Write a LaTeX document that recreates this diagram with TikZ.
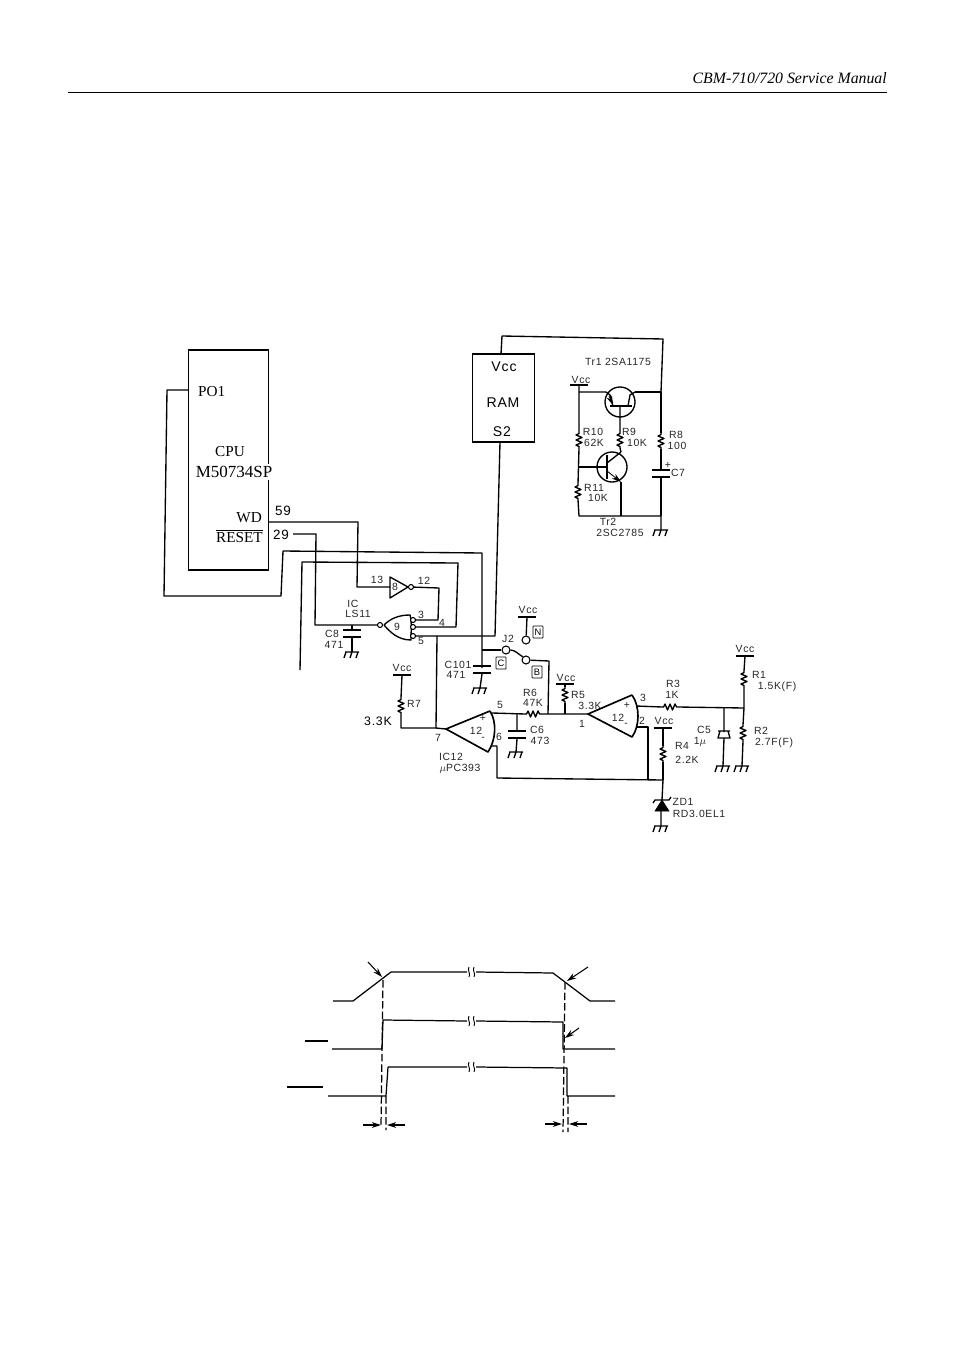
\documentclass[tikz,border=0pt]{standalone}
\usepackage{fontspec}
\usetikzlibrary{arrows.meta,calc}
\setmainfont{Liberation Serif}
\newfontfamily\lab[LetterSpace=6]{Liberation Sans}
\tikzset{
  x=0.03cm,y=-0.03cm,
  wire/.style={line width=1.15pt,line join=round},
  lbl/.style={font=\lab\fontsize{8.9}{10}\selectfont,inner sep=0pt,text=black!85},
  big/.style={font=\fontsize{13}{14}\selectfont,inner sep=0pt},
  ram/.style={font=\lab\fontsize{12}{14}\selectfont,inner sep=0pt},
  boxlbl/.style={draw,line width=0.7pt,rounded corners=0.5pt,font=\lab\fontsize{8}{9}\selectfont,inner sep=0.5pt,minimum width=10*0.03cm,minimum height=12*0.03cm},
  bubble/.style={circle,draw,line width=0.9pt,fill=white,inner sep=0pt,minimum size=5*0.03cm},
  term/.style={circle,draw,line width=0.9pt,fill=white,inner sep=0pt,minimum size=8*0.03cm},
  tr/.style={circle,draw,line width=1.15pt,inner sep=0pt,minimum size=30*0.03cm},
  dash wire/.style={line width=1.05pt,dash pattern=on 6.5pt off 2.5pt},
  tim/.style={line width=1.05pt,line join=round},
  arr/.style={line width=0.9pt,-{Stealth[length=8pt,width=5pt]}},
  pics/vres/.style={code={
    \coordinate (-top) at (0,-8);\coordinate (-bot) at (0,8);
    \draw[wire] (0,-8)--(0,-6.5)--(-3,-5)--(3,-2.5)--(-3,0)--(3,2.5)--(-3,5)--(0,6.5)--(0,8);}},
  pics/hres/.style={code={
    \coordinate (-l) at (-8,0);\coordinate (-r) at (8,0);
    \draw[wire] (-8,0)--(-6.5,0)--(-5,-3)--(-2.5,3)--(0,-3)--(2.5,3)--(5,-3)--(6.5,0)--(8,0);}},
  pics/gnd/.style={code={
    \coordinate (-in) at (0,0);
    \draw[wire] (-7,0)--(7,0) (-6,0)--(-8,6) (0,0)--(-2,6) (6,0)--(4,6);}},
  pics/vcap/.style={code={
    \coordinate (-top) at (0,-4);\coordinate (-bot) at (0,4);
    \draw[wire,line width=1.4pt] (-9,-4)--(9,-4) (-9,3)--(9,3);}},
  pics/vbar/.style={code={
    \coordinate (-in) at (0,0);
    \draw[wire] (-9,0)--(9,0);}},
}
\begin{document}
\begin{tikzpicture}
\useasboundingbox (0,0) rectangle (954,1351);
%% header
\node[font=\itshape\fontsize{13.5}{15}\selectfont,anchor=east,inner sep=0pt] (hdr) at (887,78) {CBM-710/720 Service Manual};
\coordinate (ruleL) at (68,92.5);\coordinate (ruleR) at (887,92.5);
\draw[line width=1.4pt] (ruleL)--(ruleR);

%% CPU
\node[draw,line width=1.15pt,minimum width=80*0.03cm,minimum height=220*0.03cm,inner sep=0pt] (cpu) at (228.5,460) {};
\node[big,anchor=west] (po1) at (198,392) {PO1};
\node[big] (cpulbl) at (230,452) {CPU};
\node[big,font=\fontsize{14.5}{15}\selectfont,fill=white,inner ysep=2pt] (cpuname) at (234,472) {M50734SP};
\node[big,anchor=east] (wd) at (262,518) {WD};
\node[big,anchor=east] (reset) at (263,536) {$\overline{\mbox{RESET}}$};
\node[font=\lab\fontsize{11.5}{12}\selectfont,inner sep=0pt] (p59) at (283,511) {59};
\node[font=\lab\fontsize{11.5}{12}\selectfont,inner sep=0pt] (p29) at (281,535) {29};
%% RAM
\node[draw,line width=1.15pt,minimum width=62*0.03cm,minimum height=88*0.03cm,inner sep=0pt] (ramb) at (503.5,398) {};
\node[ram] (ramv) at (504,367) {Vcc};
\node[ram] (raml) at (503,403) {RAM};
\node[ram] (rams) at (502,432) {S2};

%% inverter 8 and gate 9
\coordinate (invA) at (390,577);\coordinate (invB) at (390,598);\coordinate (invT) at (408,587);
\draw[wire] (invA)--(invT)--(invB)--cycle;
\coordinate (inv) at (390,587);
\node[bubble] (invo) at (411,587) {};
\node[lbl] (n8) at (395,587) {8};
\node[lbl] (n13) at (377,580) {13};
\node[lbl] (n12) at (424,581) {12};
%% NOR gate
\draw[wire] (410,615) .. controls (398,615) and (390,619) .. (384,625)
  .. controls (390,632) and (398,640) .. (411,640)
  .. controls (411,632) and (412,622) .. (410,615) -- cycle;
\node[bubble] (g1) at (413,620) {};
\node[bubble] (g2) at (413,627) {};
\node[bubble] (g3) at (413,636) {};
\node[bubble] (gi) at (380,625) {};
\node[lbl] (n9) at (397,627) {9};
\node[lbl] (n3) at (421,615) {3};
\node[lbl] (n4) at (442,623) {4};
\node[lbl] (n5) at (421,641) {5};
\node[lbl] (ic) at (353,604) {IC};
\node[lbl] (ls) at (358,614) {LS11};

%% CPU wires
\coordinate (cpuP) at (189,390);
\coordinate (a1) at (167,390);\coordinate (a2) at (164,596);\coordinate (a3) at (281,596);\coordinate (a4) at (283,551);\coordinate (a5) at (482,553);
\coordinate (a6) at (482,668);
\draw[wire] (cpuP)--(a1)--(a2)--(a3)--(a4)--(a5)--(a6);
\coordinate (wdP) at (268.5,522);\coordinate (b1) at (358,522);\coordinate (b2) at (357,587);
\draw[wire] (wdP)--(b1)--(b2)--(inv);
\coordinate (c0) at (293,534);\coordinate (c1) at (316,534);\coordinate (c2) at (315,625);
\draw[wire] (c0)--(c1)--(c2)--(gi);
\coordinate (d1) at (439,588);\coordinate (d2) at (438,620);
\draw[wire] (invo)--(d1)--(d2)--(g1);
\coordinate (e1) at (456,627);\coordinate (e2) at (458,563);\coordinate (e3) at (302,562);\coordinate (e4) at (300,670);
\draw[wire] (g2)--(e1)--(e2)--(e3)--(e4);
\coordinate (f1) at (495,636);\coordinate (f2) at (500,442);
\draw[wire] (g3)--(f1)--(f2);
\coordinate (g5) at (437,636);\coordinate (g7) at (436,728);
\draw[wire] (g5)--(g7);

%% C8
\pic (c8) at (352,634) {vcap};
\pic (c8g) at (352,652) {gnd};
\coordinate (c8t) at (352,625);
\draw[wire] (c8t)--(c8-top) (c8-bot)--(c8g-in);
\node[lbl] (c8a) at (332,634) {C8};
\node[lbl] (c8b) at (334,645) {471};

%% C101, J2
\pic (c101) at (482,670) {vcap};
\pic (c101g) at (480,688) {gnd};
\draw[wire] (c101-bot)--(c101g-in);
\node[lbl] (c101a) at (458,665) {C101};
\node[lbl] (c101b) at (456,675) {471};
\coordinate (j0) at (482,650);
\node[term] (j1) at (506,650) {};
\node[term] (j2) at (526,660) {};
\node[term] (j3) at (526,640) {};
\draw[wire] (j0)--(j1);
\draw[wire] (j1.east) .. controls (515,650) and (518,654) .. (j2.north west);
\node[lbl] (j2l) at (508,639) {J2};
\node[boxlbl] (bxN) at (538,632) {N};
\node[boxlbl] (bxC) at (501,663) {C};
\node[boxlbl] (bxB) at (537,672) {B};
\pic (vj) at (527,617) {vbar};
\node[lbl] (vjl) at (528,610) {Vcc};
\draw[wire] (vj-in)--(j3);
\coordinate (j4) at (549,661);\coordinate (j5) at (548,714);
\draw[wire] (j2)--(j4)--(j5);

%% R7
\pic (v7) at (402,675) {vbar};
\node[lbl] (v7l) at (402,668) {Vcc};
\pic (r7) at (401,706) {vres};
\node[lbl] (r7l) at (414,704) {R7};
\node[font=\lab\fontsize{10.5}{12}\selectfont,inner sep=0pt] (r7v) at (378,721) {3.3K};
\coordinate (r7c) at (401,728);
\draw[wire] (v7-in)--(r7-top) (r7-bot)--(r7c)--(g7);

%% Op amp 1
\coordinate (oaT) at (446,729);
\coordinate (oaU) at (490,711);\coordinate (oaD) at (488,752);
\draw[wire,line width=1.4pt] (oaU)--(oaT)--(oaD) .. controls (496,740) and (497,722) .. (oaU);
\draw[wire] (g7)--(oaT);
\node[lbl] (oa12) at (476,731) {12};
\node[lbl] (oap) at (483,718) {+};
\node[lbl] (oam) at (483,739) {-};
\node[lbl] (oa5) at (500,705) {5};
\node[lbl] (oa7) at (438,738) {7};
\node[lbl] (oa6) at (499,737) {6};
\node[lbl] (ic12) at (451,757) {IC12};
\node[lbl] (pc) at (460,769) {$\mu$PC393};

%% R6, C6
\pic (r6) at (533,714) {hres};
\coordinate (h1) at (492,713);
\coordinate (h2) at (588,714);
\coordinate (h3) at (517,714);
\draw[wire] (h1)--(r6-l) (r6-r)--(h2);
\node[lbl] (r6a) at (530,693) {R6};
\node[lbl] (r6b) at (533,703) {47K};
\pic (c6) at (517,735) {vcap};
\pic (c6g) at (516,752) {gnd};
\draw[wire] (h3)--(c6-top) (c6-bot)--(c6g-in);
\node[lbl] (c6a) at (537,730) {C6};
\node[lbl] (c6b) at (540,741) {473};

%% R5
\pic (v5) at (565,684) {vbar};
\node[lbl] (v5l) at (566,678) {Vcc};
\pic (r5) at (565,695) {vres};
\coordinate (h5) at (565,714);
\draw[wire] (v5-in)--(r5-top) (r5-bot)--(h5);
\node[lbl] (r5l) at (578,695) {R5};
\node[lbl] (r5v) at (590,706) {3.3K};
\node[lbl] (n1) at (582,724) {1};

%% Op amp 2
\coordinate (obT) at (588,714);
\coordinate (obU) at (632,695);\coordinate (obD) at (632,737);
\draw[wire,line width=1.4pt] (obU)--(obT)--(obD) .. controls (640,726) and (640,706) .. (obU);
\node[lbl] (ob12) at (618,718) {12};
\node[lbl] (obp) at (627,705) {+};
\node[lbl] (obm) at (626,725) {-};
\node[lbl] (ob3) at (643,698) {3};
\node[lbl] (ob2) at (642,721) {2};

%% R3, divider
\pic (r3) at (670,707) {hres};
\coordinate (k0) at (636,706);\coordinate (k1) at (744,708);
\draw[wire] (k0)--(r3-l) (r3-r)--(k1);
\node[lbl] (r3a) at (673,684) {R3};
\node[lbl] (r3b) at (672,695) {1K};
\pic (v1) at (745,656) {vbar};
\node[lbl] (v1l) at (745,649) {Vcc};
\pic (r1) at (744,679) {vres};
\pic (r2) at (743,733) {vres};
\pic (r2g) at (742,766) {gnd};
\draw[wire] (v1-in)--(r1-top) (r1-bot)--(k1)--(r2-top) (r2-bot)--(r2g-in);
\node[lbl] (r1a) at (759,675) {R1};
\node[lbl] (r1b) at (777,687) {1.5K(F)};
\node[lbl] (r2a) at (761,731) {R2};
\node[lbl] (r2b) at (774,743) {2.7F(F)};
%% C5
\coordinate (c5t) at (724,708);\coordinate (c5u) at (724,732);\coordinate (c5d) at (724,738);
\pic (c5g) at (723,766) {gnd};
\draw[wire] (c5t)--(c5u) (c5d)--(c5g-in);
\draw[wire] (718,731)--(730,731) (720,731)--(718,738)--(730,738)--(728,731);
\node[lbl] (c5a) at (704,730) {C5};
\node[lbl] (c5b) at (700,742) {1$\mu$};

%% Feedback, R4, zener
\coordinate (m0) at (491,746);\coordinate (m1) at (497,746);\coordinate (m2) at (497,778);\coordinate (m3) at (663,780);
\draw[wire] (m0)--(m1)--(m2)--(m3);
\coordinate (m4) at (636,727);\coordinate (m5) at (648,727);\coordinate (m6) at (648,779);
\draw[wire] (m4)--(m5)--(m6);
\pic (v4) at (663,728) {vbar};
\node[lbl] (v4l) at (664,721) {Vcc};
\pic (r4) at (663,754) {vres};
\draw[wire] (v4-in)--(r4-top) (r4-bot)--(m3);
\node[lbl] (r4a) at (682,746) {R4};
\node[lbl] (r4b) at (687,760) {2.2K};
\coordinate (zt) at (662,800);\coordinate (zb) at (661,811);
\draw[fill=black,line width=0.5pt] (655,811)--(669,811)--(zt)--cycle;
\draw[wire] (653,803)--(655,800)--(669,800)--(671,797);
\pic (zg) at (661,826) {gnd};
\draw[wire] (m3)--(zt) (zb)--(zg-in);
\node[lbl] (zd) at (683,802) {ZD1};
\node[lbl] (zdv) at (699,814) {RD3.0EL1};

%% Tr1/Tr2 block
\coordinate (t0) at (501,354);\coordinate (t1) at (502,336);\coordinate (t2) at (663,339);\coordinate (t3) at (661,392);
\draw[wire] (t0)--(t1)--(t2)--(t3);
\node[lbl] (tr1) at (618,362) {Tr1 2SA1175};
\pic (vt) at (579,385) {vbar};
\node[lbl] (vtl) at (581,380) {Vcc};
\node[tr] (q1) at (620,402) {};
\node[tr] (q2) at (612,467) {};
\coordinate (s1) at (579,392);\coordinate (s2) at (606,392);\coordinate (s3) at (635,392);
\coordinate (s4) at (579,467);\coordinate (s5) at (607,467);
\coordinate (s6) at (579,516);\coordinate (s7) at (661,516);\coordinate (s8) at (621,516);
\coordinate (s9) at (621,482);\coordinate (s10) at (621,452);
\pic (r10) at (579,440) {vres};
\pic (r11) at (578,492) {vres};
\pic (r9) at (620,440) {vres};
\pic (r8) at (661,441) {vres};
\pic (c7) at (661,474) {vcap};
\pic (c7g) at (661,530) {gnd};
\draw[wire] (vt-in)--(r10-top) (r10-bot)--(r11-top) (r11-bot)--(s6)--(s7)--(c7g-in);
\draw[wire] (s1)--(s2)--(610,395)--(613,406) (s3)--(630,395)--(628,406);
\draw[wire,line width=1.7pt] (610,406)--(632,406);
\draw[arr,line width=0.7pt] (609,396)--(613,405);
\draw[wire] (620,406)--(r9-top) (r9-bot)--(s10);
\draw[wire] (s3)--(t3)--(r8-top) (r8-bot)--(c7-top) (c7-bot)--(s7);
\draw[wire] (s4)--(s5);
\draw[wire,line width=1.7pt] (607,455)--(607,479);
\draw[wire] (607,463)--(s10);
\draw[arr,line width=0.7pt] (607,471)--(s9);
\draw[wire] (s9)--(s8);
\node[lbl] (r10a) at (593,432) {R10};
\node[lbl] (r10b) at (594,443) {62K};
\node[lbl] (r9a) at (629,432) {R9};
\node[lbl] (r9b) at (637,443) {10K};
\node[lbl] (r8a) at (676,435) {R8};
\node[lbl] (r8b) at (677,446) {100};
\node[lbl] (c7p) at (668,465) {+};
\node[lbl] (c7l) at (678,473) {C7};
\node[lbl] (r11a) at (594,488) {R11};
\node[lbl] (r11b) at (598,498) {10K};
\node[lbl] (tr2a) at (608,522) {Tr2};
\node[lbl] (tr2b) at (620,533) {2SC2785};

%% Timing chart
\coordinate (w1) at (333,1001);\coordinate (w2) at (353,1001);\coordinate (w3) at (391,972);\coordinate (w4) at (467,972);
\coordinate (w5) at (476,972);\coordinate (w6) at (553,973);\coordinate (w7) at (590,1001);\coordinate (w8) at (615,1001);
\draw[tim] (w1)--(w2)--(w3)--(w4) (w5)--(w6)--(w7)--(w8);
\coordinate (x1) at (332,1049);\coordinate (x2) at (382,1049);\coordinate (x3) at (383,1020);\coordinate (x4) at (467,1021);
\coordinate (x5) at (476,1021);\coordinate (x6) at (563,1022);\coordinate (x7) at (563,1049);\coordinate (x8) at (615,1049);
\draw[tim] (x1)--(x2)--(x3)--(x4) (x5)--(x6)--(x7)--(x8);
\coordinate (y1) at (328,1096);\coordinate (y2) at (386,1096);\coordinate (y3) at (388,1067);\coordinate (y4) at (467,1067);
\coordinate (y5) at (476,1067);\coordinate (y6) at (567,1068);\coordinate (y7) at (567,1096);\coordinate (y8) at (615,1096);
\draw[tim] (y1)--(y2)--(y3)--(y4) (y5)--(y6)--(y7)--(y8);
\foreach \yy in {972,1021,1067}{
  \draw[line width=0.8pt] (469,\yy-5) .. controls (467,\yy-2) and (471,\yy+2) .. (469,\yy+5);
  \draw[line width=0.8pt] (474,\yy-5) .. controls (472,\yy-2) and (476,\yy+2) .. (474,\yy+5);
}
\coordinate (ol1) at (305,1041);\coordinate (ol2) at (328,1041);\coordinate (ol3) at (287,1087);\coordinate (ol4) at (323,1087);
\draw[tim] (ol1)--(ol2) (ol3)--(ol4);
\coordinate (dsA) at (383,980);\coordinate (dsB) at (381,1127);\coordinate (dsC) at (386,1096);\coordinate (dsD) at (386,1130);
\coordinate (dsE) at (565,982);\coordinate (dsF) at (563,1132);\coordinate (dsG) at (568,1096);\coordinate (dsH) at (568,1132);
\draw[dash wire] (dsA)--(dsB) (dsC)--(dsD) (dsE)--(dsF) (dsG)--(dsH);
\coordinate (ar1) at (368,962);\coordinate (ar1e) at (382,977);
\coordinate (ar2) at (588,967);\coordinate (ar2e) at (567,981);
\coordinate (ar3) at (579,1028);\coordinate (ar3e) at (565,1038);
\draw[arr] (ar1)--(ar1e);
\draw[arr] (ar2)--(ar2e);
\draw[arr] (ar3)--(ar3e);
\coordinate (b1s) at (363,1125);\coordinate (b1e) at (381,1125);\coordinate (b2s) at (405,1125);\coordinate (b2e) at (387,1125);
\coordinate (b3s) at (545,1124);\coordinate (b3e) at (562,1124);\coordinate (b4s) at (587,1124);\coordinate (b4e) at (569,1124);
\draw[arr] (b1s)--(b1e);
\draw[arr] (b2s)--(b2e);
\draw[arr] (b3s)--(b3e);
\draw[arr] (b4s)--(b4e);
\end{tikzpicture}
\end{document}
